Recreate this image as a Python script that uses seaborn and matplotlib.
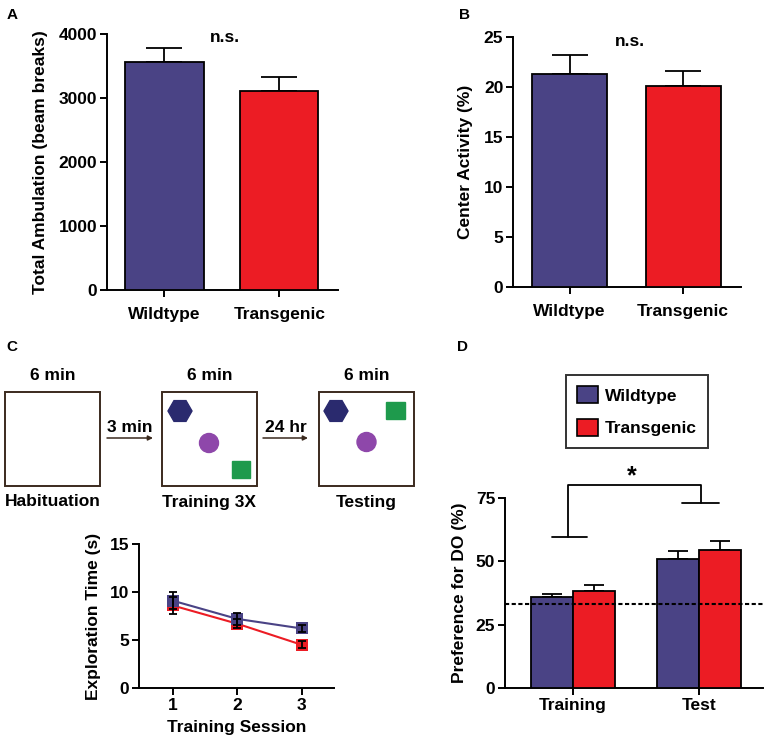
import matplotlib
matplotlib.use("Agg")
import matplotlib.pyplot as plt
import matplotlib.patches as mpatches
import seaborn as sns
import numpy as np
import pandas as pd

sns.set_theme(style="ticks")
plt.rcParams['font.family'] = ['Liberation Sans', 'DejaVu Sans']
plt.rcParams['font.weight'] = 'bold'
plt.rcParams['axes.labelweight'] = 'bold'
plt.rcParams['axes.linewidth'] = 1.4
plt.rcParams['xtick.major.width'] = 1.4
plt.rcParams['ytick.major.width'] = 1.4
plt.rcParams['xtick.major.size'] = 5
plt.rcParams['ytick.major.size'] = 5
plt.rcParams['xtick.color'] = 'black'
plt.rcParams['ytick.color'] = 'black'
plt.rcParams['axes.edgecolor'] = 'black'
plt.rcParams['text.color'] = 'black'
plt.rcParams['axes.labelcolor'] = 'black'

FS = 12.5

# Colours
WT_COLOR = '#4A4385'
TG_COLOR = '#EC1C24'
PALETTE = {'Wildtype': WT_COLOR, 'Transgenic': TG_COLOR}

# Data
groups = ['Wildtype', 'Transgenic']
ambulation_mean = [3555, 3115]
ambulation_sem = [225, 215]
center_mean = [21.3, 20.1]
center_sem = [1.85, 1.5]

sessions = [1, 2, 3]
explore_wt = [9.1, 7.2, 6.2]
explore_wt_sem = [0.9, 0.6, 0.4]
explore_tg = [8.6, 6.7, 4.5]
explore_tg_sem = [0.9, 0.5, 0.35]

phases = ['Training', 'Test']
pref_wt = [35.9, 50.9]
pref_wt_sem = [1.3, 3.0]
pref_tg = [38.1, 54.3]
pref_tg_sem = [2.7, 3.8]
chance_level = 33.3

W, H = 768, 740
fig = plt.figure(figsize=(W / 100, H / 100), dpi=100)


def px_axes(x0, y0, x1, y1, **kw):
    return fig.add_axes([x0 / W, 1 - y1 / H, (x1 - x0) / W, (y1 - y0) / H], **kw)


def style_axes(ax, xpad=2):
    sns.despine(ax=ax)
    ax.tick_params(labelsize=FS, pad=2)
    ax.tick_params(axis='x', pad=xpad)
    for lab in ax.get_xticklabels() + ax.get_yticklabels():
        lab.set_fontweight('bold')


def simple_bars(ax, means, sems, width, ylim, yticks, ylabel, ns_y):
    df = pd.DataFrame({'group': groups, 'value': means})
    sns.barplot(data=df, x='group', y='value', hue='group', palette=PALETTE,
                saturation=1, width=width, edgecolor='black', linewidth=1.3,
                errorbar=None, legend=False, ax=ax, zorder=3)
    ax.errorbar(np.arange(len(groups)), means, yerr=[np.zeros(len(sems)), sems],
                fmt='none', ecolor='black', elinewidth=1.3, capsize=13,
                capthick=1.3, zorder=2)
    ax.set_xlim(-0.5, 1.51)
    ax.set_ylim(*ylim)
    ax.set_yticks(yticks)
    ax.set_xlabel('')
    ax.set_ylabel(ylabel, fontsize=FS, labelpad=8)
    ax.text(0.53, ns_y, 'n.s.', ha='center', va='center', fontsize=FS,
            fontweight='bold')
    style_axes(ax, xpad=7)


# Panel A
axA = px_axes(107, 34, 338, 290)
simple_bars(axA, ambulation_mean, ambulation_sem, 0.68, (0, 4000),
            [0, 1000, 2000, 3000, 4000], 'Total Ambulation (beam breaks)', 3940)

# Panel B
axB = px_axes(513, 37, 741, 287)
simple_bars(axB, center_mean, center_sem, 0.66, (0, 25),
            [0, 5, 10, 15, 20, 25], 'Center Activity (%)', 24.6)

# Panel C line plot
axC = px_axes(139, 544, 334, 688)
df_c = pd.DataFrame({
    'session': sessions * 2,
    'time': explore_tg + explore_wt,
    'group': ['Transgenic'] * 3 + ['Wildtype'] * 3,
})
sns.lineplot(data=df_c, x='session', y='time', hue='group', palette=PALETTE,
             hue_order=['Transgenic', 'Wildtype'], marker='s', markersize=8,
             markeredgewidth=0, linewidth=1.5, legend=False, ax=axC, zorder=3)
axC.errorbar(sessions, explore_tg, yerr=explore_tg_sem, fmt='none',
             ecolor='black', elinewidth=1.3, capsize=3, capthick=1.3, zorder=4)
axC.errorbar(sessions, explore_wt, yerr=explore_wt_sem, fmt='none',
             ecolor='black', elinewidth=1.3, capsize=3, capthick=1.3, zorder=4)
axC.set_xlim(0.48, 3.5)
axC.set_ylim(0, 15)
axC.set_xticks(sessions)
axC.set_yticks([0, 5, 10, 15])
axC.set_xlabel('Training Session', fontsize=FS, labelpad=5)
axC.set_ylabel('Exploration Time (s)', fontsize=FS, labelpad=6)
style_axes(axC)

# Panel D
axD = px_axes(505, 498, 763, 688)
df_d = pd.DataFrame({
    'phase': phases * 2,
    'pref': pref_wt + pref_tg,
    'group': ['Wildtype'] * 2 + ['Transgenic'] * 2,
})
sns.barplot(data=df_d, x='phase', y='pref', hue='group', palette=PALETTE,
            hue_order=groups, saturation=1, width=0.667, edgecolor='black',
            linewidth=1.3, errorbar=None, legend=False, ax=axD, zorder=3)
xpos = np.arange(len(phases))
axD.errorbar(xpos - 0.1667, pref_wt, yerr=[np.zeros(2), pref_wt_sem], fmt='none',
             ecolor='black', elinewidth=1.3, capsize=7, capthick=1.3, zorder=2)
axD.errorbar(xpos + 0.1667, pref_tg, yerr=[np.zeros(2), pref_tg_sem], fmt='none',
             ecolor='black', elinewidth=1.3, capsize=7, capthick=1.3, zorder=2)
axD.axhline(chance_level, color='black', linestyle=(0, (2, 1.2)), linewidth=1.5,
            zorder=5)
axD.set_xlim(-0.54, 1.51)
axD.set_ylim(0, 75)
axD.set_yticks([0, 25, 50, 75])
axD.set_xlabel('')
axD.set_ylabel('Preference for DO (%)', fontsize=FS, labelpad=6)
style_axes(axD)

# significance bracket
bk = dict(color='black', linewidth=1.3, clip_on=False)
axD.plot([-0.04, -0.04, 1.02, 1.02], [59.6, 80, 80, 73], **bk)
axD.plot([-0.17, 0.11], [59.6, 59.6], **bk)
axD.plot([0.87, 1.16], [73, 73], **bk)
axD.text(0.47, 83.5, '*', ha='center', va='center', fontsize=18,
         fontweight='bold', clip_on=False)

handles = [mpatches.Patch(facecolor=PALETTE[g], edgecolor='black', linewidth=1.2,
                          label=g) for g in groups]
leg = axD.legend(handles=handles, loc='upper left',
                 bbox_to_anchor=(566 / W, 1 - 375 / H),
                 bbox_transform=fig.transFigure, frameon=True, fancybox=False,
                 prop={'size': FS, 'weight': 'bold'}, handlelength=1.2,
                 handleheight=1.1, borderpad=0.65, labelspacing=0.9,
                 handletextpad=0.4, borderaxespad=0)
leg.get_frame().set_edgecolor('black')
leg.get_frame().set_linewidth(1.4)

# Overlay for panel letters and the task diagram (pixel coordinates)
ov = fig.add_axes([0, 0, 1, 1], facecolor='none', zorder=-1)
ov.set_xlim(0, W)
ov.set_ylim(H, 0)
ov.axis('off')

for letter, (lx, ly) in {'A': (12, 15), 'B': (464, 15), 'C': (12, 347),
                         'D': (463, 347)}.items():
    ov.text(lx, ly, letter, ha='center', va='center', fontsize=11,
            fontweight='bold')

BOX_EDGE = '#3B2A1E'
box_x = [5, 162, 319]
box_labels = ['Habituation', 'Training 3X', 'Testing']
for bx, lab in zip(box_x, box_labels):
    ov.add_patch(mpatches.Rectangle((bx, 392), 95, 94, fill=False,
                                    edgecolor=BOX_EDGE, linewidth=1.4))
    ov.text(bx + 47.5, 376, '6 min', ha='center', va='center', fontsize=FS,
            fontweight='bold')
    ov.text(bx + 47.5, 502, lab, ha='center', va='center', fontsize=FS,
            fontweight='bold')

HEX = '#2A2A6E'
CIRC = '#8E47AA'
SQ = '#1E9A4C'
# training box objects
ov.add_patch(mpatches.RegularPolygon((180, 411), 6, radius=12, orientation=np.pi / 6,
                                     color=HEX))
ov.add_patch(mpatches.Circle((209, 443), 9.5, color=CIRC))
ov.add_patch(mpatches.Rectangle((232, 461), 18, 17, color=SQ))
# testing box objects
ov.add_patch(mpatches.RegularPolygon((336, 411), 6, radius=12, orientation=np.pi / 6,
                                     color=HEX))
ov.add_patch(mpatches.Circle((366.5, 442), 9.5, color=CIRC))
ov.add_patch(mpatches.Rectangle((386, 402), 19, 17, color=SQ))

for (x0, x1), lab in zip([(107, 153), (263, 308)], ['3 min', '24 hr']):
    ov.annotate('', xy=(x1, 438), xytext=(x0, 438),
                arrowprops=dict(arrowstyle='-|>', color=BOX_EDGE, lw=1.1,
                                mutation_scale=7, shrinkA=0, shrinkB=0))
    ov.text((x0 + x1) / 2, 427, lab, ha='center', va='center', fontsize=FS,
            fontweight='bold')

fig.savefig('out.png', dpi=100)
